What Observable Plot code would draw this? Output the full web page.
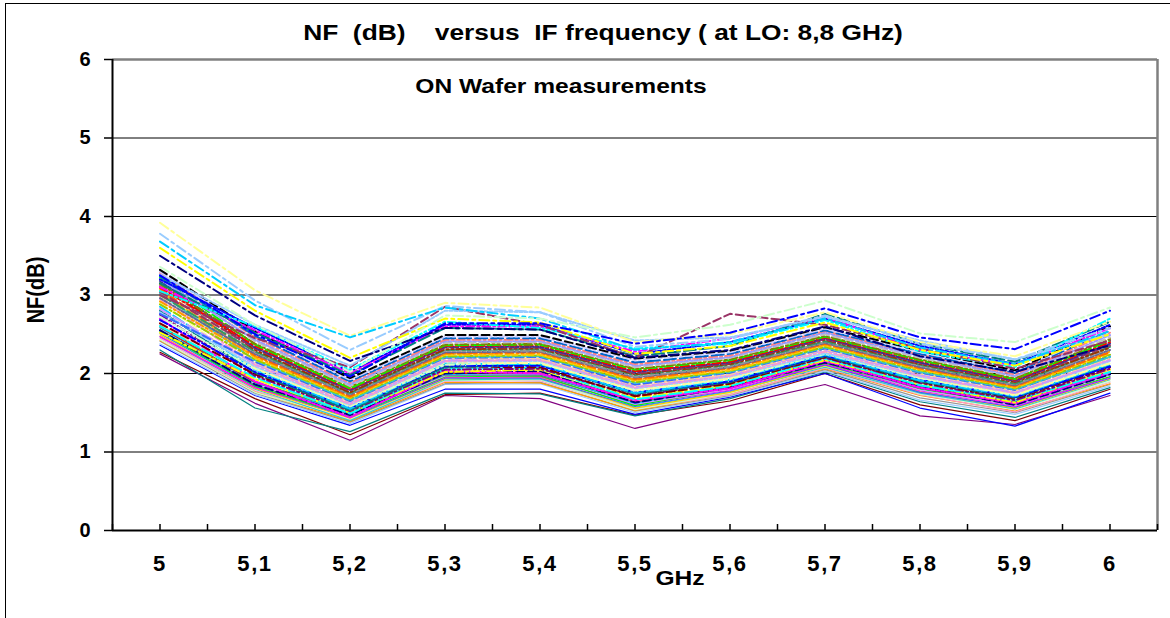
<!DOCTYPE html>
<html>
<head>
<meta charset="utf-8">
<script src="https://cdn.jsdelivr.net/npm/d3@7"></script>
<script src="https://cdn.jsdelivr.net/npm/@observablehq/plot@0.6"></script>
<style>
html, body { margin: 0; padding: 0; background: #fff; }
#chart { position: relative; width: 1170px; height: 618px; overflow: hidden;
  font-family: "Liberation Sans", Arial, sans-serif; font-weight: bold; color: #000; background: #fff; }
#frame { position: absolute; left: 5px; top: 3px; width: 1200px; height: 700px;
  border: 1.5px solid #000; box-sizing: border-box; }
#plot { position: absolute; left: 0; top: 0; }
.lbl { position: absolute; white-space: pre; font-weight: bold; line-height: 1; }
#title { left: 603px; top: 33px; font-size: 22.5px; transform: translate(-50%, -50%) scaleX(1.17); }
#subtitle { left: 561px; top: 85px; font-size: 21px; transform: translate(-50%, -50%) scaleX(1.17); }
#ylabel { left: 36px; top: 290px; font-size: 20px; transform: translate(-50%, -50%) rotate(-90deg) scaleY(1.15); }
#xlabel { left: 680px; top: 577px; font-size: 21px; transform: translate(-50%, -50%) scaleX(1.17); }
#plot g[aria-label="x-axis tick label"] text { font-size: 22px; letter-spacing: 1.6px; }
#plot g[aria-label="y-axis tick label"] text { font-size: 20px; }
</style>
</head>
<body>
<div id="chart">
  <div id="frame"></div>
  <div id="plot"></div>
  <div class="lbl" id="title">NF  (dB)    versus  IF frequency ( at LO: 8,8 GHz)</div>
  <div class="lbl" id="subtitle">ON Wafer measurements</div>
  <div class="lbl" id="ylabel">NF(dB)</div>
  <div class="lbl" id="xlabel">GHz</div>
</div>
<script>
// IF frequency categories (GHz) and their labels
const ifFreq = [5, 5.1, 5.2, 5.3, 5.4, 5.5, 5.6, 5.7, 5.8, 5.9, 6];
const freqLabels = ["5", "5,1", "5,2", "5,3", "5,4", "5,5", "5,6", "5,7", "5,8", "5,9", "6"];
const yTicks = [0, 1, 2, 3, 4, 5, 6];
const gridValues = [1, 2, 3, 4, 5];

// NF (dB) per measured die, one list per series, values at each IF frequency
const nfSeries = [
  // lowest solid traces
  [2.25, 1.62, 1.15, 1.72, 1.68, 1.30, 1.59, 1.86, 1.46, 1.35, 1.72],
  [2.27, 1.68, 1.22, 1.73, 1.75, 1.47, 1.65, 2.00, 1.60, 1.40, 1.80],
  [2.30, 1.56, 1.26, 1.75, 1.74, 1.46, 1.68, 2.02, 1.64, 1.44, 1.82],
  [2.36, 1.72, 1.34, 1.80, 1.80, 1.48, 1.70, 2.00, 1.56, 1.33, 1.75],
  // lower solid band
  [2.38, 1.73, 1.36, 1.86, 1.87, 1.50, 1.71, 2.03, 1.66, 1.48, 1.84],
  [2.41, 1.75, 1.38, 1.87, 1.89, 1.52, 1.72, 2.05, 1.69, 1.50, 1.86],
  [2.42, 1.77, 1.39, 1.89, 1.88, 1.53, 1.74, 2.06, 1.72, 1.52, 1.87],
  [2.45, 1.78, 1.41, 1.90, 1.91, 1.55, 1.73, 2.07, 1.73, 1.51, 1.89],
  [2.43, 1.76, 1.42, 1.91, 1.92, 1.54, 1.75, 2.09, 1.74, 1.54, 1.90],
  [2.47, 1.80, 1.40, 1.92, 1.93, 1.57, 1.77, 2.08, 1.75, 1.55, 1.92],
  [2.49, 1.81, 1.43, 1.93, 1.95, 1.56, 1.76, 2.10, 1.77, 1.56, 1.93],
  [2.51, 1.83, 1.44, 1.94, 1.94, 1.58, 1.78, 2.11, 1.76, 1.57, 1.94],
  [2.47, 1.82, 1.46, 1.95, 1.96, 1.60, 1.79, 2.12, 1.78, 1.58, 1.95],
  [2.53, 1.84, 1.45, 1.96, 1.97, 1.59, 1.81, 2.13, 1.80, 1.60, 1.96],
  [2.55, 1.86, 1.47, 1.97, 1.99, 1.61, 1.80, 2.15, 1.79, 1.59, 1.98],
  [2.56, 1.85, 1.48, 1.98, 1.98, 1.63, 1.82, 2.14, 1.81, 1.61, 1.99],
  [2.58, 1.88, 1.49, 1.99, 2.00, 1.62, 1.84, 2.16, 1.83, 1.62, 2.00],
  [2.59, 1.89, 1.51, 2.00, 2.01, 1.64, 1.83, 2.17, 1.82, 1.63, 2.02],
  [2.61, 1.90, 1.50, 2.01, 2.03, 1.66, 1.85, 2.18, 1.84, 1.64, 2.01],
  [2.63, 1.92, 1.52, 2.03, 2.02, 1.65, 1.86, 2.19, 1.85, 1.66, 2.04],
  // dashed main band
  [2.55, 1.86, 1.47, 2.00, 2.03, 1.63, 1.82, 2.14, 1.83, 1.60, 1.99],
  [2.70, 1.90, 1.44, 2.03, 2.00, 1.66, 1.81, 2.16, 1.82, 1.62, 2.01],
  [2.52, 1.93, 1.50, 2.02, 2.05, 1.69, 1.85, 2.17, 1.86, 1.63, 2.05],
  [2.60, 1.95, 1.49, 2.06, 2.07, 1.67, 1.84, 2.19, 1.85, 1.66, 2.02],
  [2.75, 1.97, 1.52, 2.05, 2.06, 1.72, 1.88, 2.20, 1.88, 1.66, 2.06],
  [2.64, 1.99, 1.54, 2.09, 2.08, 1.71, 1.87, 2.21, 1.89, 1.68, 2.08],
  [2.80, 2.01, 1.53, 2.08, 2.11, 1.74, 1.89, 2.22, 1.90, 1.69, 2.10],
  [2.68, 2.02, 1.56, 2.10, 2.10, 1.76, 1.90, 2.23, 1.92, 1.70, 2.09],
  [2.85, 2.05, 1.55, 2.12, 2.12, 1.75, 1.92, 2.24, 1.91, 1.71, 2.12],
  [2.72, 2.06, 1.58, 2.11, 2.14, 1.78, 1.93, 2.25, 1.94, 1.72, 2.14],
  [2.90, 2.07, 1.59, 2.14, 2.13, 1.79, 1.94, 2.27, 1.95, 1.73, 2.13],
  [2.78, 2.09, 1.60, 2.15, 2.16, 1.81, 1.96, 2.26, 1.96, 1.75, 2.16],
  [2.95, 2.11, 1.61, 2.16, 2.17, 1.82, 1.97, 2.28, 1.97, 1.75, 2.18],
  [2.82, 2.12, 1.63, 2.17, 2.18, 1.83, 1.98, 2.30, 1.98, 1.76, 2.17],
  [2.98, 2.14, 1.64, 2.19, 2.19, 1.85, 1.99, 2.31, 2.00, 1.78, 2.20],
  [2.76, 2.15, 1.65, 2.20, 2.21, 1.86, 2.01, 2.32, 2.01, 1.79, 2.22],
  [3.02, 2.17, 1.66, 2.21, 2.22, 1.88, 2.02, 2.33, 2.02, 1.80, 2.21],
  [2.88, 2.18, 1.68, 2.22, 2.23, 1.89, 2.03, 2.34, 2.04, 1.81, 2.24],
  [3.05, 2.20, 1.69, 2.24, 2.24, 1.91, 2.04, 2.36, 2.05, 1.82, 2.26],
  [2.92, 2.22, 1.70, 2.25, 2.26, 1.92, 2.06, 2.37, 2.06, 1.83, 2.28],
  [3.08, 2.23, 1.71, 2.26, 2.27, 1.93, 2.07, 2.38, 2.07, 1.84, 2.27],
  [2.96, 2.25, 1.73, 2.27, 2.28, 1.95, 2.08, 2.39, 2.08, 1.85, 2.30],
  [3.12, 2.27, 1.74, 2.29, 2.29, 1.96, 2.09, 2.40, 2.10, 1.86, 2.32],
  [3.00, 2.28, 1.75, 2.30, 2.31, 1.98, 2.11, 2.41, 2.11, 1.87, 2.34],
  [3.15, 2.30, 1.76, 2.31, 2.32, 1.99, 2.12, 2.43, 2.12, 1.89, 2.33],
  [3.04, 2.32, 1.78, 2.33, 2.33, 2.00, 2.13, 2.44, 2.13, 1.90, 2.36],
  [3.18, 2.33, 1.79, 2.34, 2.34, 2.02, 2.14, 2.45, 2.14, 1.91, 2.38],
  [3.10, 2.35, 1.80, 2.35, 2.36, 2.03, 2.15, 2.46, 2.16, 1.92, 2.40],
  [3.22, 2.37, 1.81, 2.36, 2.37, 2.05, 2.17, 2.47, 2.17, 1.93, 2.42],
  [3.14, 2.38, 1.83, 2.37, 2.38, 2.06, 2.18, 2.48, 2.18, 1.94, 2.44],
  [3.26, 2.41, 1.84, 2.39, 2.40, 2.08, 2.20, 2.50, 2.20, 1.96, 2.46],
  [3.20, 2.43, 1.86, 2.41, 2.41, 2.10, 2.21, 2.52, 2.22, 1.97, 2.49],
  [3.28, 2.46, 1.88, 2.43, 2.43, 2.12, 2.23, 2.54, 2.24, 1.99, 2.52],
  [3.24, 2.48, 1.90, 2.45, 2.45, 2.14, 2.25, 2.55, 2.25, 2.01, 2.55],
  [3.30, 2.51, 1.92, 2.47, 2.47, 2.17, 2.27, 2.57, 2.27, 2.03, 2.57],
  [3.32, 2.54, 1.94, 2.49, 2.49, 2.19, 2.29, 2.59, 2.29, 2.04, 2.60],
  // above the band
  [3.20, 2.58, 2.02, 2.62, 2.62, 2.25, 2.40, 2.70, 2.35, 2.12, 2.62],
  [3.10, 2.55, 2.00, 2.60, 2.60, 2.28, 2.45, 2.72, 2.30, 2.10, 2.58],
  [3.15, 2.52, 1.98, 2.58, 2.56, 2.22, 2.35, 2.76, 2.38, 2.15, 2.66],
  [3.05, 2.60, 2.05, 2.66, 2.58, 2.32, 2.38, 2.68, 2.28, 2.08, 2.70],
  [3.00, 2.45, 2.08, 2.85, 2.62, 2.20, 2.76, 2.62, 2.32, 2.06, 2.42],
  [3.26, 2.62, 2.10, 2.80, 2.78, 2.42, 2.46, 2.72, 2.42, 2.18, 2.50],
  // top outliers
  [3.92, 3.06, 2.48, 2.90, 2.84, 2.40, 2.50, 2.78, 2.40, 2.22, 2.66],
  [3.78, 2.93, 2.30, 2.86, 2.78, 2.34, 2.44, 2.74, 2.38, 2.18, 2.58],
  [3.68, 2.87, 2.46, 2.84, 2.70, 2.30, 2.40, 2.70, 2.33, 2.12, 2.54],
  [3.60, 2.80, 2.20, 2.70, 2.65, 2.25, 2.35, 2.65, 2.30, 2.10, 2.50],
  [3.50, 2.74, 2.16, 2.58, 2.56, 2.20, 2.30, 2.60, 2.22, 2.02, 2.36],
  [3.36, 2.62, 2.02, 2.74, 2.70, 2.46, 2.62, 2.93, 2.51, 2.40, 2.84],
  [3.25, 2.50, 1.96, 2.64, 2.64, 2.38, 2.52, 2.83, 2.46, 2.31, 2.80]
];

// styles (kept apart from the data)
const seriesColor = [
  "#800080", "#800000", "#008080", "#0000FF",
  "#99CCFF", "#969696", "#FF9900", "#FF99CC", "#CCFFCC", "#33CCCC", "#FFCC00", "#3366FF",
  "#FF00FF", "#00FF00", "#CC99FF", "#666699", "#00CCFF", "#FF0000", "#339966", "#FFCC99",
  "#000080", "#FF00FF", "#FFFF00", "#00FFFF", "#800080", "#800000", "#008080", "#0000FF",
  "#00CCFF", "#CCFFCC", "#FFFF99", "#99CCFF", "#FF99CC", "#CC99FF", "#FFCC99", "#3366FF",
  "#33CCCC", "#99CC00", "#FFCC00", "#FF9900", "#FF6600", "#666699", "#969696", "#339966",
  "#993300", "#993366", "#333399", "#FF0000", "#00FF00", "#808000", "#C0C0C0", "#9999FF",
  "#FF8080", "#0066CC", "#CCCCFF", "#000000",
  "#0000FF", "#FF00FF", "#008080", "#00FFFF", "#993366", "#99CCFF",
  "#FFFF99", "#99CCFF", "#00CCFF", "#FFFF00", "#000080", "#CCFFCC", "#0000FF"
];
const dashCycle = ["8,4", "3,2", "8,3,2,3", "12,4", "8,3,2,3,2,3"];
const seriesDash = nfSeries.map((_, i) => {
  if (i < 20) return null;
  if (i >= 62) return "10,4,3,4";
  return dashCycle[i % dashCycle.length];
});

const lineMarks = nfSeries.map((vals, i) =>
  Plot.line(ifFreq.map((f, j) => ({f, nf: vals[j]})), {
    x: "f", y: "nf",
    stroke: seriesColor[i % seriesColor.length],
    strokeDasharray: seriesDash[i],
    strokeWidth: seriesDash[i] ? 2 : 1.2,
    strokeLinejoin: "round"
  })
);

const minorTicks = d3.range(0, 23).map(k => 4.95 + k * 0.05);

const chart = Plot.plot({
  width: 1170,
  height: 618,
  marginLeft: 112,
  marginRight: 13,
  marginTop: 59,
  marginBottom: 88,
  x: {domain: [4.95, 6.05]},
  y: {domain: [0, 6]},
  style: {background: "none", fontFamily: "'Liberation Sans', Arial, sans-serif", fontWeight: "bold", color: "#000", overflow: "visible"},
  marks: [
    Plot.ruleY(gridValues, {stroke: "#000", strokeWidth: 1}),
    ...lineMarks,
    Plot.ruleY([6], {stroke: "#808080", strokeWidth: 2.5}),
    Plot.ruleX([6.05], {stroke: "#808080", strokeWidth: 2.5}),
    Plot.ruleX([4.95], {stroke: "#000", strokeWidth: 2}),
    Plot.ruleY([0], {stroke: "#000", strokeWidth: 2}),
    Plot.axisY({ticks: yTicks, tickSize: 8, tickPadding: 14, fontSize: 20, label: null, tickFormat: d => String(d), strokeWidth: 1.5}),
    Plot.axisX({ticks: minorTicks, tickSize: 6, dy: -6, tickFormat: () => "", label: null, strokeWidth: 1.5}),
    Plot.axisX({ticks: ifFreq, tickSize: 0, tickPadding: 25, fontSize: 22, label: null,
      tickFormat: d => freqLabels[ifFreq.indexOf(d)]})
  ]
});
document.getElementById("plot").appendChild(chart);
</script>
</body>
</html>
